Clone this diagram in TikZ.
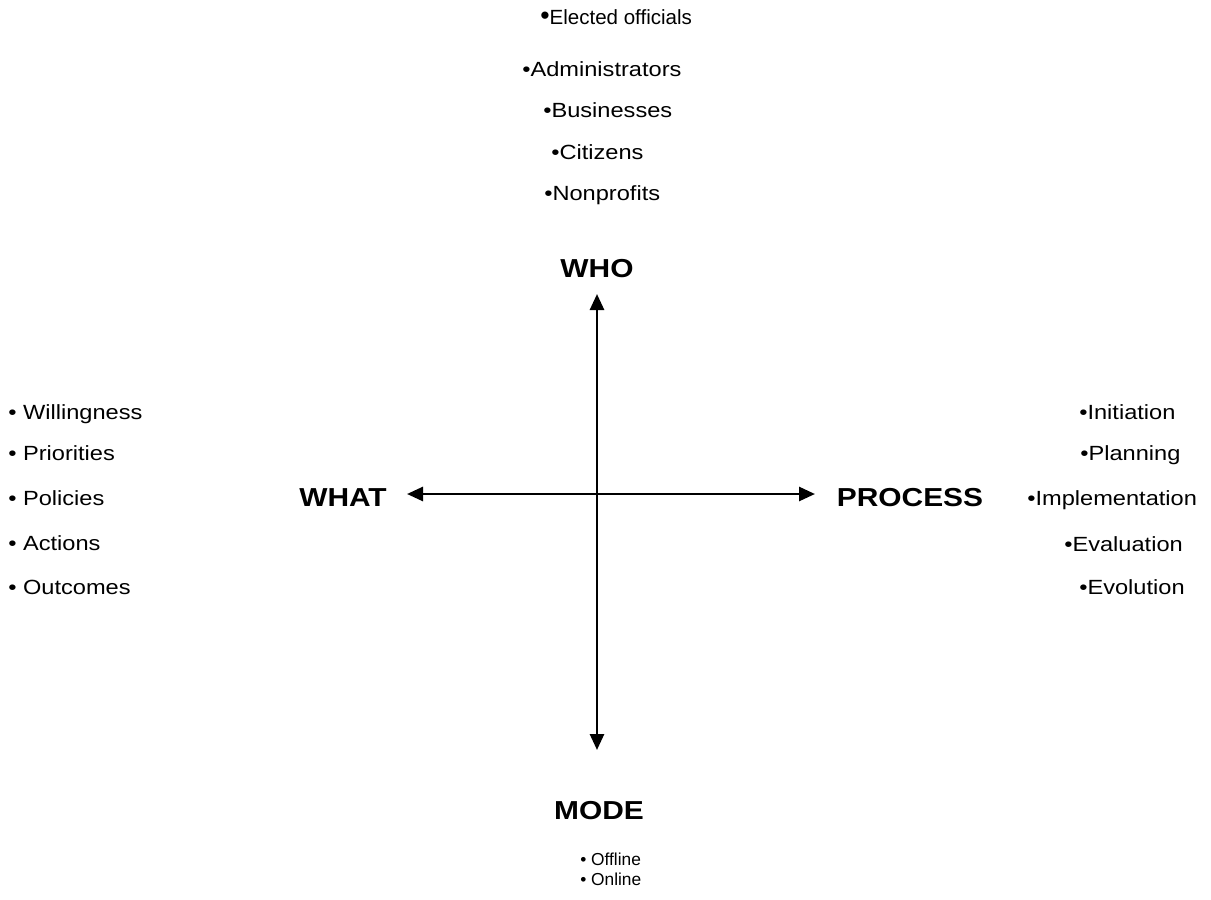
\documentclass[tikz,border=0pt]{standalone}
\usepackage{fontspec}
\setmainfont{Liberation Sans}[FakeStretch=1.15]
\newfontfamily\plainsans{Liberation Sans}
\usetikzlibrary{arrows.meta}
\tikzset{
  item/.style={inner sep=0pt, anchor=base west, font=\fontsize{15.4}{18}\selectfont},
  small/.style={inner sep=0pt, anchor=base west, font=\plainsans\fontsize{13}{15}\selectfont},
  head/.style={inner sep=0pt, anchor=base, font=\fontsize{19.5}{22}\selectfont\bfseries},
  axis/.style={line width=2pt, {Triangle[length=12pt,width=10.5pt]}-{Triangle[length=12pt,width=10.5pt]}}
}
\begin{document}
\begin{tikzpicture}[x=0.75pt,y=-0.75pt]
\useasboundingbox (0,0) rectangle (1211,900);
% axes
\coordinate (top) at (597,294);
\coordinate (bot) at (597,750);
\coordinate (lft) at (407,494);
\coordinate (rgt) at (815,494);
\draw[axis] (top) -- (bot);
\draw[axis] (lft) -- (rgt);
% headings
\node[head] (who) at (597,277) {WHO};
\node[head] (what) at (343,506) {WHAT};
\node[head] (process) at (910,506) {PROCESS};
\node[head] (mode) at (599,819) {MODE};
% who list
\node[item, font=\plainsans\fontsize{15.4}{18}\selectfont] (w1) at (540,24) {{\fontsize{20}{20}\selectfont •}Elected officials};
\node[item] (w2) at (522,76) {•Administrators};
\node[item] (w3) at (543,117) {•Businesses};
\node[item] (w4) at (551,159) {•Citizens};
\node[item] (w5) at (544,200) {•Nonprofits};
% what list
\node[item] (a1) at (8,419) {• Willingness};
\node[item] (a2) at (8,460) {• Priorities};
\node[item] (a3) at (8,505) {• Policies};
\node[item] (a4) at (8,550) {• Actions};
\node[item] (a5) at (8,594) {• Outcomes};
% process list
\node[item] (p1) at (1079,419) {•Initiation};
\node[item] (p2) at (1080,460) {•Planning};
\node[item] (p3) at (1027,505) {•Implementation};
\node[item] (p4) at (1064,551) {•Evaluation};
\node[item] (p5) at (1079,594) {•Evolution};
% mode list
\node[small] (m1) at (580,865) {• Offline};
\node[small] (m2) at (580,885) {• Online};
\end{tikzpicture}
\end{document}
